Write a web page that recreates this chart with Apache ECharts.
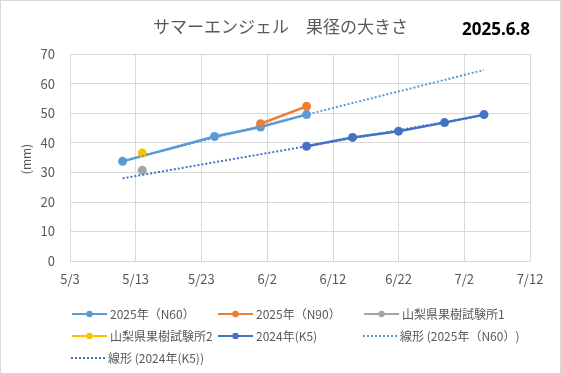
<!DOCTYPE html>
<html><head><meta charset="utf-8">
<script src="https://cdn.jsdelivr.net/npm/echarts@6/dist/echarts.min.js"></script>
<style>html,body{margin:0;padding:0;background:#fff}#c{width:561px;height:374px;box-sizing:border-box;border:1px solid #d9d9d9}</style>
</head><body><div id="c"></div>
<script>
// ---- data ----
const n60Dates = ['5/11', '5/25', '6/1', '6/8'];
const n60Values = [33.7, 42.1, 45.3, 49.5];
const n90Dates = ['6/1', '6/8'];
const n90Values = [46.4, 52.3];
const lab1Dates = ['5/14'];
const lab1Values = [30.7];
const lab2Dates = ['5/14'];
const lab2Values = [36.5];
const k5Dates = ['6/8', '6/15', '6/22', '6/29', '7/5'];
const k5Values = [38.8, 41.8, 43.9, 46.8, 49.5];
const trendFrom = '5/11';
const trendTo = '7/5';
const xTickStart = '5/3';
const xTickEnd = '7/12';
const yTicks = [0, 10, 20, 30, 40, 50, 60, 70];

const names = ['2025年（N60）', '2025年（N90）', '山梨県果樹試験所1', '山梨県果樹試験所2', '2024年(K5)', '線形 (2025年（N60）)', '線形 (2024年(K5))'];
const colors = ['#5B9BD5', '#ED7D31', '#A5A5A5', '#FFC000', '#4472C4'];

const BASE = Date.UTC(1899, 11, 30);
function serial(s) { const [m, d] = s.split('/').map(Number); return (Date.UTC(2025, m - 1, d) - BASE) / 86400000; }
function fmt(v) { const dt = new Date(BASE + v * 86400000); return (dt.getUTCMonth() + 1) + '/' + dt.getUTCDate(); }
function pairs(ds, vs) { return ds.map((d, i) => [serial(d), vs[i]]); }
function trend(ds, vs) {
  const xs = ds.map(serial), n = xs.length;
  const mx = xs.reduce((a, b) => a + b, 0) / n, my = vs.reduce((a, b) => a + b, 0) / n;
  let sxy = 0, sxx = 0;
  xs.forEach((x, i) => { sxy += (x - mx) * (vs[i] - my); sxx += (x - mx) * (x - mx); });
  const b = sxy / sxx, a = my - b * mx;
  return [serial(trendFrom), serial(trendTo)].map(x => [x, a + b * x]);
}

const FONT = '"Noto Sans CJK JP", "Noto Sans", sans-serif';
const txt = '#595959';

function lineSeries(name, data, color) {
  return { name, type: 'line', data, symbol: 'circle', symbolSize: 9, showSymbol: true,
    itemStyle: { color }, lineStyle: { color, width: 2.5 }, z: 3, animation: false };
}
function trendSeries(name, data, color) {
  return { name, type: 'line', data, symbol: 'none', lineStyle: { color, width: 2, type: [2, 2] }, itemStyle: { color }, z: 4, animation: false, silent: true };
}

const series = [
  lineSeries(names[0], pairs(n60Dates, n60Values), colors[0]),
  lineSeries(names[1], pairs(n90Dates, n90Values), colors[1]),
  lineSeries(names[2], pairs(lab1Dates, lab1Values), colors[2]),
  lineSeries(names[3], pairs(lab2Dates, lab2Values), colors[3]),
  lineSeries(names[4], pairs(k5Dates, k5Values), colors[4]),
  trendSeries(names[5], trend(n60Dates, n60Values), colors[0]),
  trendSeries(names[6], trend(k5Dates, k5Values), colors[4])
];

let dots = '';
for (let i = 0; i < 9; i++) dots += 'M' + (i * 4) + ',0h2v2h-2z';
const dotIcon = 'path://' + dots;

const legendPos = [[65, 302], [211, 302], [357, 302], [65, 324], [211, 324], [357, 324], [65, 346]];
const legends = names.map((nm, i) => {
  const isTrend = i >= 5;
  return {
    data: [isTrend ? { name: nm, icon: dotIcon } : nm],
    left: legendPos[i][0], top: legendPos[i][1],
    itemWidth: isTrend ? 34 : 35, itemHeight: isTrend ? 2 : 8, itemGap: 0,
    selectedMode: false, textStyle: { color: txt, fontSize: 12, fontFamily: FONT, padding: [0, 0, 0, -2] }
  };
});

const chart = echarts.init(document.getElementById('c'), null, { renderer: 'canvas' });
chart.setOption({
  animation: false,
  title: [
    { text: 'サマーエンジェル　果径の大きさ', left: 'center', top: 12, textStyle: { color: txt, fontSize: 17, fontWeight: 'normal', fontFamily: FONT } },
    { text: '2025.6.8', left: 456, top: 16, textStyle: { color: '#000', fontSize: 17, fontWeight: 'bold', fontFamily: '"Noto Sans", sans-serif' } }
  ],
  legend: legends,
  grid: { left: 69, right: 30, top: 53, bottom: 112, containLabel: false },
  xAxis: {
    type: 'value', min: serial(xTickStart), max: serial(xTickEnd), interval: 10,
    axisLine: { show: true, lineStyle: { color: '#D9D9D9', width: 1 } }, axisTick: { show: false },
    splitLine: { show: true, lineStyle: { color: '#D9D9D9', width: 1 } },
    axisLabel: { formatter: fmt, color: txt, fontSize: 13, fontFamily: FONT, margin: 12 }
  },
  yAxis: {
    type: 'value', min: yTicks[0], max: yTicks[yTicks.length - 1], interval: yTicks[1] - yTicks[0],
    axisLine: { show: false }, axisTick: { show: false },
    splitLine: { show: true, lineStyle: { color: '#D9D9D9', width: 1 } },
    axisLabel: { color: txt, fontSize: 13, fontFamily: FONT, margin: 15 }
  },
  graphic: [{ type: 'text', x: 25, y: 158, rotation: Math.PI / 2,
    style: { text: '(mm)', fill: txt, font: '12px ' + FONT, textAlign: 'center', textVerticalAlign: 'middle' } }],
  series
});
</script></body></html>
